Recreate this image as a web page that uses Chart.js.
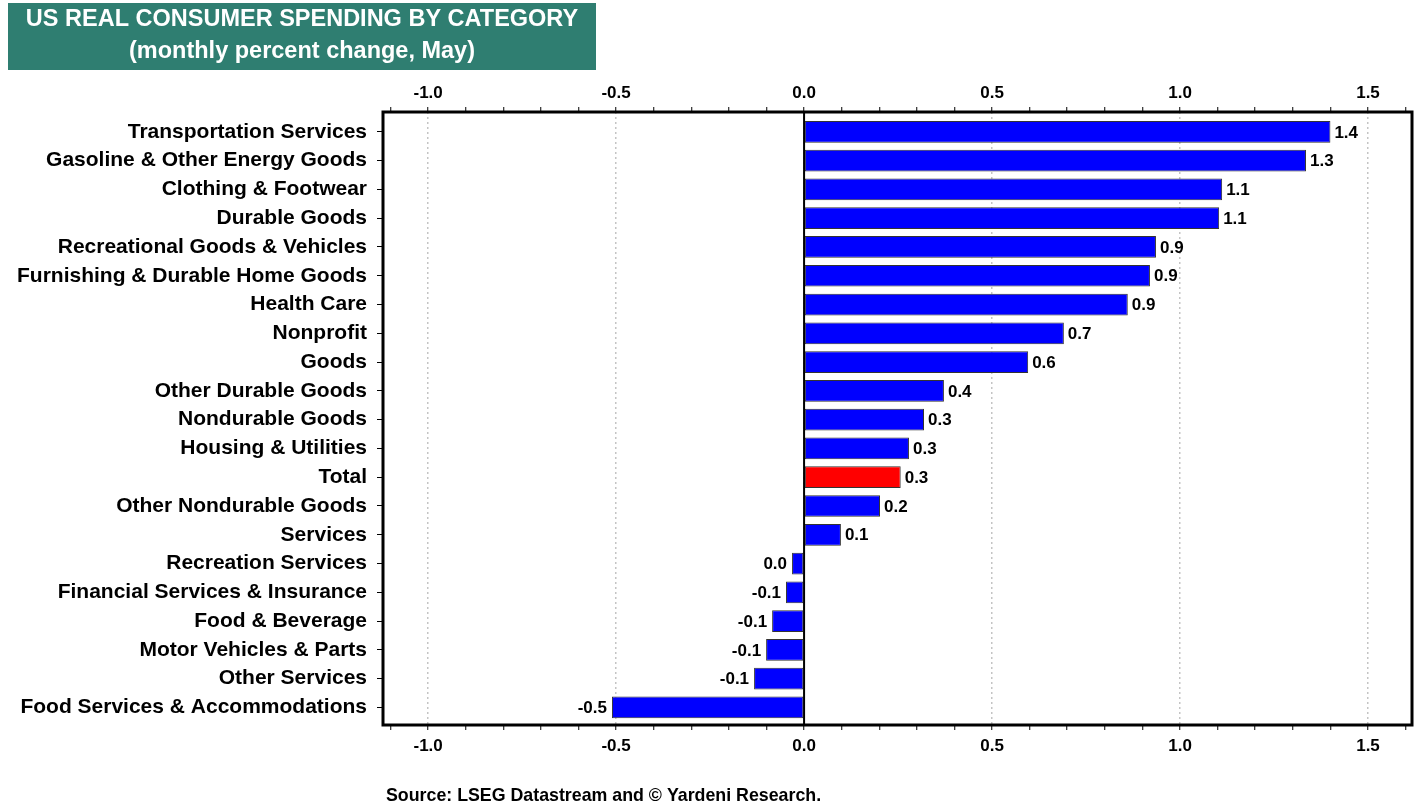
<!DOCTYPE html>
<html>
<head>
<meta charset="utf-8">
<script src="https://cdn.jsdelivr.net/npm/chart.js@4.4.1/dist/chart.umd.min.js"></script>
<style>
  html, body { margin: 0; padding: 0; background: #fff; }
  #wrap { width: 1422px; height: 809px; position: relative; }
</style>
</head>
<body>
<div id="wrap"><canvas id="gasto"></canvas></div>
<script>
const categorias = [
  'Transportation Services', 'Gasoline & Other Energy Goods', 'Clothing & Footwear',
  'Durable Goods', 'Recreational Goods & Vehicles', 'Furnishing & Durable Home Goods',
  'Health Care', 'Nonprofit', 'Goods', 'Other Durable Goods', 'Nondurable Goods',
  'Housing & Utilities', 'Total', 'Other Nondurable Goods', 'Services',
  'Recreation Services', 'Financial Services & Insurance', 'Food & Beverage',
  'Motor Vehicles & Parts', 'Other Services', 'Food Services & Accommodations'
];
const valores = [1.40, 1.335, 1.112, 1.104, 0.936, 0.920, 0.861, 0.691, 0.596, 0.372, 0.319,
  0.279, 0.257, 0.202, 0.098, -0.032, -0.048, -0.085, -0.101, -0.133, -0.511];
const etiquetas = ['1.4', '1.3', '1.1', '1.1', '0.9', '0.9', '0.9', '0.7', '0.6', '0.4', '0.3',
  '0.3', '0.3', '0.2', '0.1', '0.0', '-0.1', '-0.1', '-0.1', '-0.1', '-0.5'];
const ticksMayores = [-1.0, -0.5, 0.0, 0.5, 1.0, 1.5];
const ticksMenores = [-1.1, -1.0, -0.9, -0.8, -0.7, -0.6, -0.5, -0.4, -0.3, -0.2, -0.1, 0.0,
  0.1, 0.2, 0.3, 0.4, 0.5, 0.6, 0.7, 0.8, 0.9, 1.0, 1.1, 1.2, 1.3, 1.4, 1.5, 1.6];

const colores = categorias.map(c => c === 'Total' ? '#ff0000' : '#0000ff');
const puntos = valores.map((v, i) => ({ x: v, y: i }));
const esMayor = v => ticksMayores.some(t => Math.abs(t - v) < 1e-6);
const FUENTE = '"Liberation Sans", Arial, sans-serif';

const ejeX = (pos) => ({
  type: 'linear',
  position: pos,
  min: -1.12,
  max: 1.617,
  afterBuildTicks: (axis) => { axis.ticks = ticksMenores.map(v => ({ value: v })); },
  afterFit: (axis) => { axis.height = pos === 'top' ? 112 : 40; },
  grid: {
    drawOnChartArea: pos === 'bottom',
    color: (ctx) => (ctx.tick && esMayor(ctx.tick.value)) ? '#c4c4c4' : 'rgba(0,0,0,0)',
    lineWidth: 1.5,
    drawTicks: true,
    tickLength: 5,
    tickColor: '#000',
    tickWidth: 1
  },
  border: { display: false, dash: [2, 3] },
  ticks: {
    autoSkip: false,
    maxRotation: 0,
    padding: pos === 'top' ? 3 : 6,
    color: '#000',
    font: { family: FUENTE, size: 17, weight: 'bold' },
    callback: (v) => esMayor(v) ? Number(v).toFixed(1) : ''
  }
});

// titulo, marco, linea de cero y etiquetas de las barras
const decoracion = {
  id: 'decoracion',
  beforeDraw(chart) {
    const ctx = chart.ctx;
    ctx.save();
    ctx.fillStyle = '#2f7e71';
    ctx.fillRect(8, 3, 588, 67);
    ctx.fillStyle = '#fff';
    ctx.font = 'bold 23.5px ' + FUENTE;
    ctx.textAlign = 'center';
    ctx.textBaseline = 'middle';
    ctx.fillText('US REAL CONSUMER SPENDING BY CATEGORY', 302, 20);
    ctx.fillText('(monthly percent change, May)', 302, 52);
    ctx.fillStyle = '#000';
    ctx.font = 'bold 17.8px ' + FUENTE;
    ctx.textAlign = 'left';
    ctx.fillText('Source: LSEG Datastream and \u00a9 Yardeni Research.', 386, 796);
    ctx.restore();
  },
  afterDatasetsDraw(chart) {
    const ctx = chart.ctx;
    const a = chart.chartArea;
    const x0 = chart.scales.x.getPixelForValue(0);
    ctx.save();
    ctx.strokeStyle = '#000';
    ctx.lineWidth = 2;
    ctx.beginPath();
    ctx.moveTo(x0, a.top);
    ctx.lineTo(x0, a.bottom);
    ctx.stroke();

    ctx.font = 'bold 17px ' + FUENTE;
    ctx.fillStyle = '#000';
    ctx.textBaseline = 'middle';
    chart.getDatasetMeta(0).data.forEach((bar, i) => {
      if (valores[i] >= 0) {
        ctx.textAlign = 'left';
        ctx.fillText(etiquetas[i], bar.x + 4, bar.y + 1);
      } else {
        ctx.textAlign = 'right';
        ctx.fillText(etiquetas[i], bar.x - 5, bar.y + 1);
      }
    });

    ctx.lineWidth = 3;
    ctx.strokeRect(a.left, a.top, a.right - a.left, a.bottom - a.top);
    ctx.restore();
  }
};

const ctx = document.getElementById('gasto').getContext('2d');
const grafica = new Chart(ctx, {
  type: 'bar',
  data: {
    datasets: [{
      data: puntos,
      backgroundColor: colores,
      borderColor: '#333',
      borderWidth: 1,
      borderSkipped: false,
      barPercentage: 0.755,
      categoryPercentage: 1.0,
      xAxisID: 'x'
    }]
  },
  options: {
    indexAxis: 'y',
    responsive: true,
    maintainAspectRatio: false,
    animation: false,
    layout: { padding: { left: 0, right: 10, top: 0, bottom: 44 } },
    plugins: {
      legend: { display: false },
      tooltip: { enabled: false }
    },
    scales: {
      x: ejeX('bottom'),
      x2: ejeX('top'),
      y: {
        type: 'linear',
        reverse: true,
        offset: false,
        min: -0.69,
        max: 20.61,
        afterBuildTicks: (axis) => { axis.ticks = categorias.map((c, i) => ({ value: i })); },
        afterFit: (axis) => { axis.width = 383; },
        grid: {
          offset: false,
          drawOnChartArea: false,
          drawTicks: true,
          tickLength: 6,
          tickColor: '#000'
        },
        border: { display: false },
        ticks: {
          autoSkip: false,
          padding: 10,
          color: '#000',
          font: { family: FUENTE, size: 21, weight: 'bold' },
          callback: (v) => categorias[v] || ''
        }
      }
    }
  },
  plugins: [decoracion]
});
</script>
</body>
</html>
